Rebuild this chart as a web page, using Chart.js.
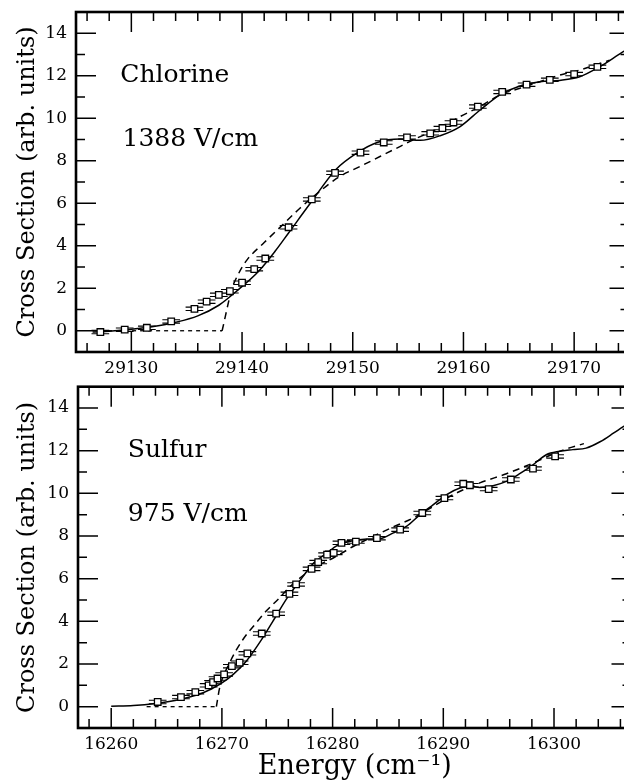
<!DOCTYPE html>
<html>
<head>
<meta charset="utf-8">
<script src="https://cdn.jsdelivr.net/npm/chart.js@4.4.1/dist/chart.umd.min.js"></script>
<style>
  html, body { margin: 0; padding: 0; background: #fff; overflow: hidden; width: 624px; height: 783px; }
  #graficoCl { position: absolute; left: 0; top: 0; }
  #graficoS { position: absolute; left: 0; top: 374px; }
</style>
</head>
<body>
<canvas id="graficoCl" width="640" height="380"></canvas>
<canvas id="graficoS" width="640" height="409"></canvas>
<script>
const fuente = "'DejaVu Serif', serif";

// Cloro, 1388 V/cm
const energiaCl = [29127.2, 29129.4, 29131.4, 29133.6, 29135.7, 29136.8, 29137.9, 29138.9, 29140.0, 29141.1,
  29142.1, 29144.2, 29146.3, 29148.4, 29150.7, 29152.8, 29154.9, 29157.0, 29158.1, 29159.1,
  29161.3, 29163.5, 29165.7, 29167.8, 29170.0, 29172.1];
const seccionCl = [-0.06, 0.05, 0.14, 0.44, 1.03, 1.37, 1.69, 1.86, 2.26, 2.9,
  3.4, 4.87, 6.18, 7.43, 8.38, 8.86, 9.1, 9.29, 9.54, 9.8,
  10.55, 11.24, 11.58, 11.81, 12.08, 12.42];
const ajusteClX = [29126.5, 29128, 29130, 29132, 29134, 29136, 29137.9, 29139.7, 29141.5, 29143.0, 29144.2,
  29146.1, 29148.5, 29150.4, 29152.2, 29154.3, 29156.1, 29157.9, 29159.7, 29161.5, 29163.3,
  29165.1, 29166.9, 29168.7, 29170.5, 29172.3, 29174.4, 29175.5];
const ajusteClY = [-0.06, -0.02, 0.07, 0.2, 0.4, 0.7, 1.2, 1.95, 2.8, 3.75, 4.6,
  5.95, 7.6, 8.37, 8.86, 9.02, 8.96, 9.18, 9.61, 10.39, 11.1,
  11.52, 11.72, 11.78, 11.95, 12.42, 13.12, 13.45];
const modeloClX = [29127.9, 29138.2, 29139.1, 29139.6, 29140.4, 29142.0, 29143.5, 29145.2, 29147.0, 29148.8,
  29150.7, 29152.5, 29154.3, 29155.8, 29157.9, 29159.7, 29161.5, 29163.3, 29165.1, 29166.9,
  29168.7, 29170.5, 29172.3, 29173.2];
const modeloClY = [0, 0, 2.0, 2.6, 3.3, 4.15, 4.9, 5.75, 6.55, 7.25,
  7.74, 8.21, 8.68, 9.07, 9.54, 10.08, 10.55, 11.1, 11.41, 11.72,
  12.03, 12.27, 12.58, 12.73];
const ticksCl = [29130, 29140, 29150, 29160, 29170];

// Azufre, 975 V/cm
const energiaS = [16264.2, 16266.3, 16267.6, 16268.8, 16269.2, 16269.6, 16270.2, 16270.9, 16271.6, 16272.3,
  16273.6, 16274.9, 16276.1, 16276.7, 16278.1, 16278.7, 16279.5, 16280.1, 16280.8, 16282.1,
  16284.0, 16286.1, 16288.1, 16290.1, 16291.8, 16292.4, 16294.1, 16296.1, 16298.1, 16300.1];
const seccionS = [0.22, 0.45, 0.68, 1.0, 1.15, 1.32, 1.51, 1.9, 2.06, 2.5,
  3.43, 4.36, 5.29, 5.73, 6.46, 6.78, 7.13, 7.21, 7.68, 7.74,
  7.9, 8.3, 9.08, 9.78, 10.45, 10.38, 10.2, 10.65, 11.16, 11.73];
const ajusteSX = [16260, 16262, 16264, 16266.2, 16268.3, 16269.8, 16271.0, 16272.2, 16273.4, 16274.6,
  16275.9, 16276.8, 16278.3, 16279.5, 16280.4, 16281.6, 16283.1, 16284.3, 16285.5, 16286.7,
  16287.9, 16289.1, 16290.3, 16291.5, 16292.4, 16293.3, 16294.5, 16295.7, 16296.9, 16298.1,
  16299.3, 16300.5, 16301.7, 16302.9, 16304.2, 16305.4, 16306.3, 16307.5];
const ajusteSY = [0.02, 0.05, 0.15, 0.34, 0.65, 1.04, 1.5, 2.13, 3.0, 4.0,
  5.1, 5.73, 6.74, 7.21, 7.55, 7.75, 7.86, 7.88, 8.15, 8.46,
  9.0, 9.47, 9.94, 10.25, 10.33, 10.28, 10.36, 10.56, 10.92, 11.34,
  11.81, 11.97, 12.05, 12.12, 12.43, 12.83, 13.14, 13.5];
const modeloSX = [16263.2, 16269.5, 16269.8, 16270.7, 16271.9, 16273.1, 16274.0, 16275.2, 16276.1, 16278.3,
  16280.1, 16281.9, 16283.7, 16285.5, 16287.3, 16289.1, 16290.9, 16293.3, 16295.7, 16298.1,
  16300.5, 16302.7];
const modeloSY = [0, 0, 0.89, 2.06, 3.15, 3.93, 4.48, 5.1, 5.6, 6.51,
  6.98, 7.52, 7.99, 8.43, 8.85, 9.39, 9.94, 10.49, 10.92, 11.42,
  11.97, 12.33];
const ticksS = [16260, 16270, 16280, 16290, 16300];

const ticksY = [0, 2, 4, 6, 8, 10, 12, 14];

const aPuntos = (xs, ys) => xs.map((v, i) => ({ x: v, y: ys[i] }));

// barras de error horizontales (dobles) bajo los cuadrados
const errores = {
  id: 'errores',
  beforeDatasetsDraw(chart, args, opts) {
    const { ctx, chartArea: a, scales: { x, y } } = chart;
    ctx.save();
    ctx.beginPath();
    ctx.rect(a.left, a.top, a.right - a.left, a.bottom - a.top);
    ctx.clip();
    ctx.strokeStyle = '#000';
    ctx.lineWidth = 1.1;
    ctx.beginPath();
    opts.xs.forEach((xv, i) => {
      const x0 = x.getPixelForValue(xv - opts.ex);
      const x1 = x.getPixelForValue(xv + opts.ex);
      [opts.ys[i] - opts.ey, opts.ys[i] + opts.ey].forEach(yv => {
        const py = y.getPixelForValue(yv);
        ctx.moveTo(x0, py);
        ctx.lineTo(x1, py);
      });
    });
    ctx.stroke();
    ctx.restore();
  }
};

// marco, marcas hacia adentro en los cuatro lados y rótulos
const marco = {
  id: 'marco',
  afterDraw(chart, args, opts) {
    const { ctx, chartArea: a, scales: { x, y } } = chart;
    ctx.save();
    ctx.strokeStyle = '#000';
    ctx.lineWidth = 1.5;
    ctx.beginPath();
    for (let v = opts.primeraX; v < x.max; v += 2) {
      const px = x.getPixelForValue(v);
      const largo = v % 10 === 0 ? 20 : 9;
      ctx.moveTo(px, a.bottom); ctx.lineTo(px, a.bottom - largo);
      ctx.moveTo(px, a.top); ctx.lineTo(px, a.top + largo);
    }
    for (let v = 0; v < y.max; v++) {
      const py = y.getPixelForValue(v);
      const largo = v % 2 === 0 ? 20 : 9;
      ctx.moveTo(a.left, py); ctx.lineTo(a.left + largo, py);
      ctx.moveTo(a.right, py); ctx.lineTo(a.right - largo, py);
    }
    ctx.stroke();
    ctx.lineWidth = 2.6;
    ctx.strokeRect(a.left, a.top, a.right - a.left, a.bottom - a.top);

    ctx.fillStyle = '#000';
    ctx.font = '25px ' + fuente;
    ctx.textBaseline = 'middle';
    ctx.textAlign = 'left';
    opts.rotulos.forEach(([texto, xv, yv]) => {
      ctx.fillText(texto, x.getPixelForValue(xv), y.getPixelForValue(yv));
    });
    ctx.restore();
  }
};

function crearPanel(id, p) {
  return new Chart(document.getElementById(id), {
    type: 'scatter',
    data: {
      datasets: [{
        data: aPuntos(p.xs, p.ys),
        pointStyle: 'rect',
        pointRadius: 4.6,
        pointBorderWidth: 1.3,
        borderColor: '#000',
        backgroundColor: '#fff',
        showLine: false
      }, {
        data: aPuntos(p.ajusteX, p.ajusteY),
        showLine: true,
        borderColor: '#000',
        borderWidth: 1.5,
        pointRadius: 0,
        cubicInterpolationMode: 'monotone'
      }, {
        data: aPuntos(p.modeloX.slice(0, 2), p.modeloY.slice(0, 2)),
        showLine: true,
        borderColor: '#000',
        borderWidth: 1.3,
        borderDash: [4, 4],
        pointRadius: 0
      }, {
        data: aPuntos(p.modeloX.slice(1), p.modeloY.slice(1)),
        showLine: true,
        borderColor: '#000',
        borderWidth: 1.5,
        borderDash: [7, 5],
        pointRadius: 0,
        cubicInterpolationMode: 'monotone'
      }]
    },
    options: {
      responsive: false,
      animation: false,
      events: [],
      layout: { padding: { top: p.arriba, right: p.derecha, left: 0, bottom: 0 } },
      plugins: {
        legend: { display: false },
        tooltip: { enabled: false },
        errores: { xs: p.xs, ys: p.ys, ex: 0.8, ey: 0.08 },
        marco: { primeraX: p.primeraX, rotulos: p.rotulos }
      },
      scales: {
        x: {
          type: 'linear',
          min: p.min,
          max: p.max,
          afterBuildTicks: s => { s.ticks = p.ticks.map(v => ({ value: v })); },
          afterFit: s => {
            s.height = p.altoX;
            s.paddingLeft = 0;
            s.paddingRight = 0;
          },
          grid: { display: false, drawTicks: false },
          border: { display: false },
          ticks: {
            color: '#000',
            font: { family: fuente, size: 17 },
            padding: 6,
            maxRotation: 0,
            autoSkip: false,
            callback: v => String(v)
          },
          title: {
            display: !!p.tituloX,
            text: p.tituloX || '',
            color: '#000',
            font: { family: fuente, size: 27 },
            padding: { top: 0, bottom: 0 }
          }
        },
        y: {
          min: -1,
          max: 15,
          afterBuildTicks: s => { s.ticks = ticksY.map(v => ({ value: v })); },
          afterFit: s => {
            s.width = p.anchoY;
            s.paddingTop = 0;
            s.paddingBottom = 0;
          },
          grid: { display: false, drawTicks: false },
          border: { display: false },
          ticks: {
            color: '#000',
            font: { family: fuente, size: 17 },
            padding: 9,
            callback: v => String(v)
          },
          title: {
            display: true,
            text: 'Cross Section (arb. units)',
            color: '#000',
            font: { family: fuente, size: 24 },
            padding: { top: 13, bottom: 0 }
          }
        }
      }
    },
    plugins: [errores, marco]
  });
}

crearPanel('graficoCl', {
  xs: energiaCl, ys: seccionCl,
  ajusteX: ajusteClX, ajusteY: ajusteClY,
  modeloX: modeloClX, modeloY: modeloClY,
  ticks: ticksCl, min: 29125, max: 29175, primeraX: 29126,
  arriba: 12, derecha: 10.5, anchoY: 76, altoX: 28,
  rotulos: [['Chlorine', 29129, 12], ['1388 V/cm', 29129.2, 9]]
});

crearPanel('graficoS', {
  xs: energiaS, ys: seccionS,
  ajusteX: ajusteSX, ajusteY: ajusteSY,
  modeloX: modeloSX, modeloY: modeloSY,
  ticks: ticksS, min: 16257, max: 16307, primeraX: 16258,
  arriba: 12.7, derecha: 8.5, anchoY: 78, altoX: 55,
  tituloX: 'Energy (cm⁻¹)',
  rotulos: [['Sulfur', 16261.5, 12], ['975 V/cm', 16261.5, 9]]
});
</script>
</body>
</html>
